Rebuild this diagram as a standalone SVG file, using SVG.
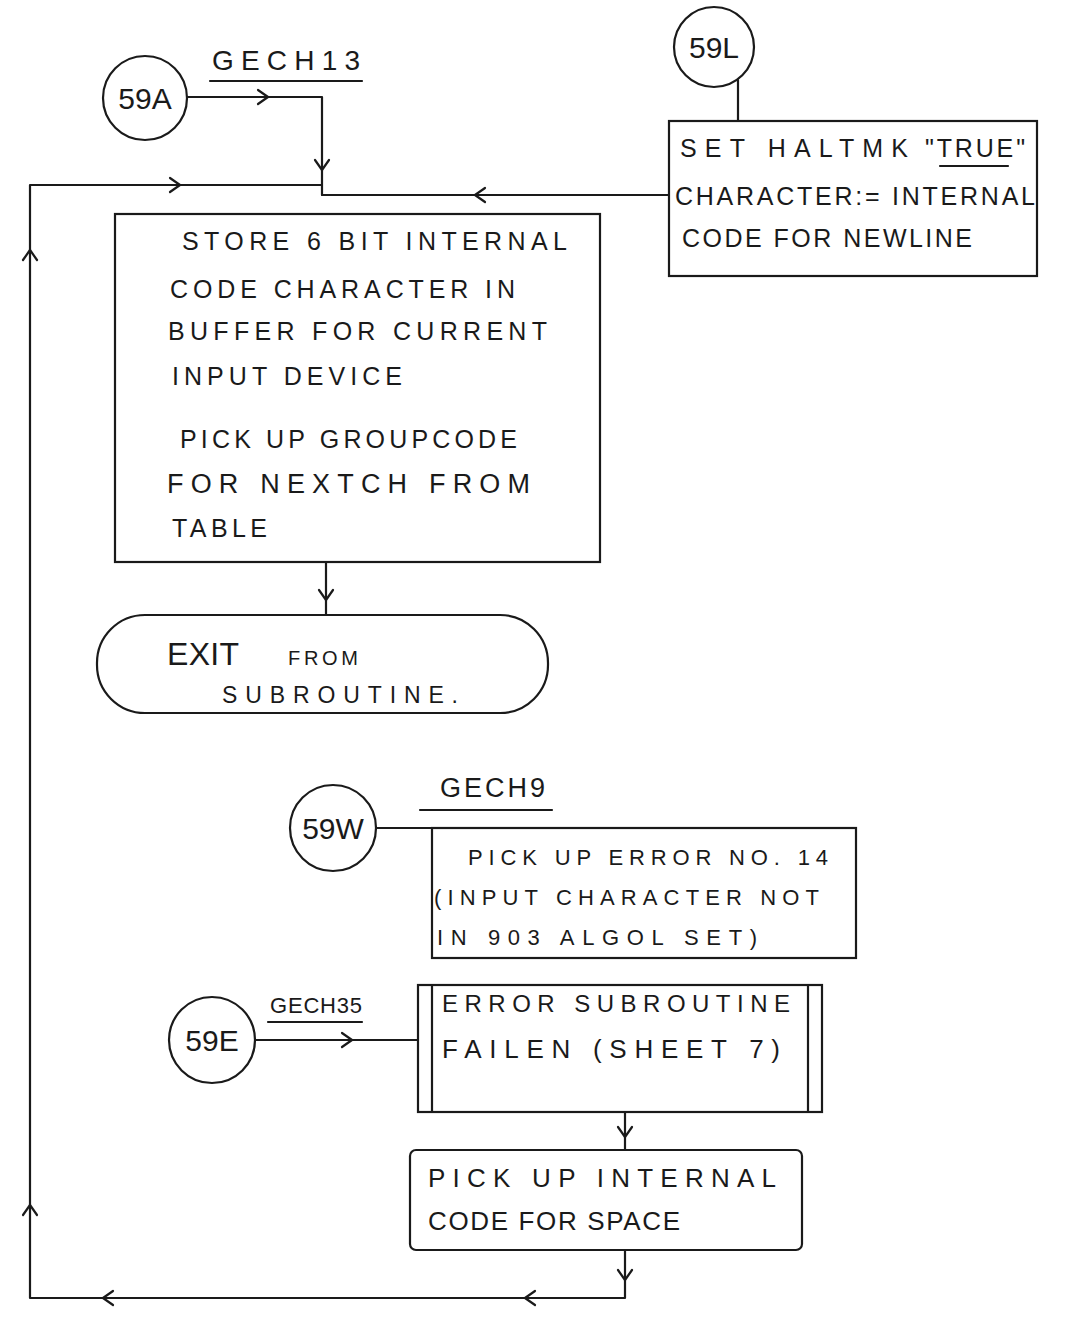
<svg xmlns="http://www.w3.org/2000/svg" xmlns:xlink="http://www.w3.org/1999/xlink" width="1082" height="1327" viewBox="0 0 1082 1327">
<style>
.ln{fill:none;stroke:#1a1a1a;stroke-width:2.2;stroke-linecap:round;stroke-linejoin:round}
.box{fill:none;stroke:#1a1a1a;stroke-width:2.2}
.t{font-family:"Liberation Sans","DejaVu Sans",sans-serif;fill:#1a1a1a;font-weight:normal}
.lbl{font-family:"Liberation Sans","DejaVu Sans",sans-serif;fill:#1a1a1a;font-size:30px;text-anchor:middle}
</style>
<defs>
<path id="chev" d="M-10,-7 L0,0 L-10,7" fill="none" stroke="#1a1a1a" stroke-width="2.2" stroke-linecap="round" stroke-linejoin="round"/>
</defs>
<rect width="1082" height="1327" fill="#ffffff"/>

<g id="connectors">
  <path class="ln" d="M187,97 H322 V195"/>
  <use xlink:href="#chev" transform="translate(268,97)"/>
  <use xlink:href="#chev" transform="translate(322,170) rotate(90)"/>
  <path class="ln" d="M738,80 V121"/>
  <path class="ln" d="M669,195 H322"/>
  <use xlink:href="#chev" transform="translate(475,195) rotate(180)"/>
  <path class="ln" d="M326,562 V615"/>
  <use xlink:href="#chev" transform="translate(326,600) rotate(90)"/>
  <path class="ln" d="M376,828 H432"/>
  <path class="ln" d="M255,1040 H418"/>
  <use xlink:href="#chev" transform="translate(352,1040)"/>
  <path class="ln" d="M625,1112 V1150"/>
  <use xlink:href="#chev" transform="translate(625,1137) rotate(90)"/>
  <path class="ln" d="M625,1250 V1298 H30 V185 H322"/>
  <use xlink:href="#chev" transform="translate(625,1280) rotate(90)"/>
  <use xlink:href="#chev" transform="translate(525,1298) rotate(180)"/>
  <use xlink:href="#chev" transform="translate(103,1298) rotate(180)"/>
  <use xlink:href="#chev" transform="translate(30,1205) rotate(-90)"/>
  <use xlink:href="#chev" transform="translate(30,250) rotate(-90)"/>
  <use xlink:href="#chev" transform="translate(180,185)"/>
</g>

<g id="n59A">
  <circle class="box" cx="145" cy="98" r="42"/>
  <text class="lbl" x="145" y="109">59A</text>
  <text class="t" x="212" y="70" font-size="28" textLength="148" lengthAdjust="spacing">GECH13</text>
  <path class="ln" d="M210,81 H362"/>
</g>

<g id="n59L">
  <circle class="box" cx="714" cy="47" r="40"/>
  <text class="lbl" x="714" y="58">59L</text>
</g>

<g id="setHalt">
  <rect class="box" x="669" y="121" width="368" height="155"/>
  <text class="t" x="680" y="157" font-size="25" textLength="228" lengthAdjust="spacing">SET HALTMK</text>
  <text class="t" x="925" y="157" font-size="25" textLength="100" lengthAdjust="spacing">"TRUE"</text>
  <path class="ln" d="M940,166 H1008"/>
  <text class="t" x="675" y="205" font-size="25" textLength="360" lengthAdjust="spacing">CHARACTER:= INTERNAL</text>
  <text class="t" x="682" y="247" font-size="25" textLength="290" lengthAdjust="spacing">CODE FOR NEWLINE</text>
</g>

<g id="store">
  <rect class="box" x="115" y="214" width="485" height="348"/>
  <text class="t" x="182" y="250" font-size="25" textLength="385" lengthAdjust="spacing">STORE 6 BIT INTERNAL</text>
  <text class="t" x="170" y="298" font-size="25" textLength="345" lengthAdjust="spacing">CODE CHARACTER IN</text>
  <text class="t" x="168" y="340" font-size="25" textLength="379" lengthAdjust="spacing">BUFFER FOR CURRENT</text>
  <text class="t" x="172" y="385" font-size="25" textLength="230" lengthAdjust="spacing">INPUT DEVICE</text>
  <text class="t" x="180" y="448" font-size="25" textLength="337" lengthAdjust="spacing">PICK UP GROUPCODE</text>
  <text class="t" x="167" y="493" font-size="27" textLength="363" lengthAdjust="spacing">FOR NEXTCH FROM</text>
  <text class="t" x="172" y="537" font-size="25" textLength="95" lengthAdjust="spacing">TABLE</text>
</g>

<g id="exit">
  <rect class="box" x="97" y="615" width="451" height="98" rx="48" ry="48"/>
  <text class="t" x="167" y="665" font-size="32" textLength="72" lengthAdjust="spacing">EXIT</text>
  <text class="t" x="288" y="665" font-size="20" textLength="70" lengthAdjust="spacing">FROM</text>
  <text class="t" x="222" y="703" font-size="23" textLength="236" lengthAdjust="spacing">SUBROUTINE.</text>
</g>

<g id="n59W">
  <circle class="box" cx="333" cy="828" r="43"/>
  <text class="lbl" x="333" y="839">59W</text>
  <text class="t" x="440" y="797" font-size="27" textLength="105" lengthAdjust="spacing">GECH9</text>
  <path class="ln" d="M420,810 H552"/>
</g>

<g id="pickError">
  <rect class="box" x="432" y="828" width="424" height="130"/>
  <text class="t" x="468" y="865" font-size="22" textLength="360" lengthAdjust="spacing">PICK UP ERROR NO. 14</text>
  <text class="t" x="434" y="905" font-size="22" textLength="385" lengthAdjust="spacing">(INPUT CHARACTER NOT</text>
  <text class="t" x="437" y="945" font-size="22" textLength="320" lengthAdjust="spacing">IN 903 ALGOL SET)</text>
</g>

<g id="n59E">
  <circle class="box" cx="212" cy="1040" r="43"/>
  <text class="lbl" x="212" y="1051">59E</text>
  <text class="t" x="270" y="1013" font-size="22" textLength="92" lengthAdjust="spacing">GECH35</text>
  <path class="ln" d="M268,1022 H362"/>
</g>

<g id="errorSub">
  <rect class="box" x="418" y="985" width="404" height="127"/>
  <path class="ln" d="M432,985 V1112 M808,985 V1112"/>
  <text class="t" x="442" y="1012" font-size="24" textLength="348" lengthAdjust="spacing">ERROR SUBROUTINE</text>
  <text class="t" x="442" y="1058" font-size="26" textLength="338" lengthAdjust="spacing">FAILEN (SHEET 7)</text>
</g>

<g id="pickSpace">
  <rect class="box" x="410" y="1150" width="392" height="100" rx="6" ry="6"/>
  <text class="t" x="428" y="1187" font-size="26" textLength="348" lengthAdjust="spacing">PICK UP INTERNAL</text>
  <text class="t" x="428" y="1230" font-size="26" textLength="252" lengthAdjust="spacing">CODE FOR SPACE</text>
</g>
</svg>
